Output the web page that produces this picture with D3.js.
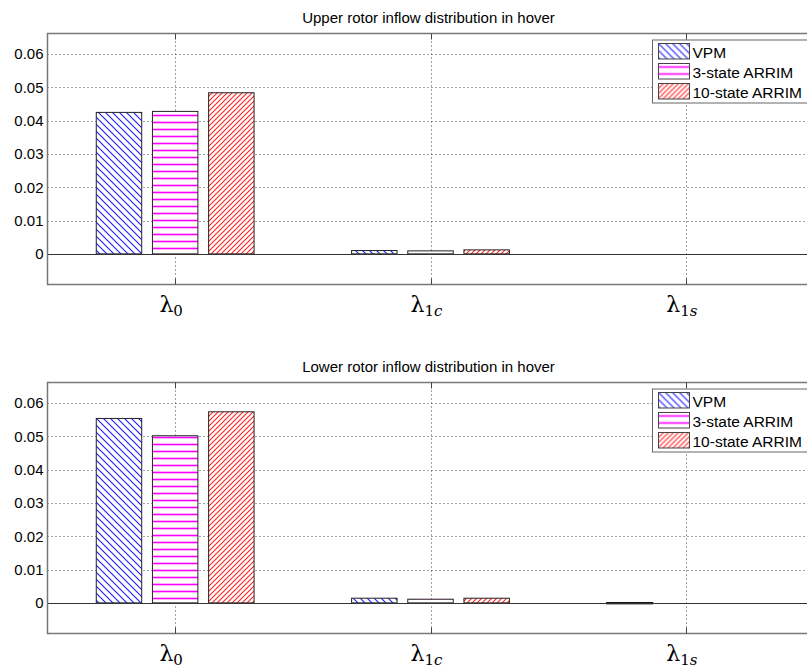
<!DOCTYPE html>
<html>
<head>
<meta charset="utf-8">
<script src="https://cdn.jsdelivr.net/npm/d3@7"></script>
<style>
  body { margin: 0; background: #fff; }
  svg { display: block; font-family: 'Liberation Sans', Arial, sans-serif; }
</style>
</head>
<body>
<svg id="chart"></svg>
<script>
// categories (x ticks): symbol, upright subscript part, italic subscript part
const categories = [
  { sym: 'λ', sub: '0', subIt: '' },
  { sym: 'λ', sub: '1', subIt: 'c' },
  { sym: 'λ', sub: '1', subIt: 's' },
];
const seriesNames = ['VPM', '3-state ARRIM', '10-state ARRIM'];
const yTicks = [0, 0.01, 0.02, 0.03, 0.04, 0.05, 0.06];

// upper rotor
const upperVPM = [0.0425, 0.0010, 0];
const upper3State = [0.0428, 0.0009, 0];
const upper10State = [0.0484, 0.0012, 0];

// lower rotor
const lowerVPM = [0.0554, 0.0014, -0.0002];
const lower3State = [0.0502, 0.0011, 0];
const lower10State = [0.0574, 0.0014, 0];

const panels = [
  { title: 'Upper rotor inflow distribution in hover', series: [upperVPM, upper3State, upper10State] },
  { title: 'Lower rotor inflow distribution in hover', series: [lowerVPM, lower3State, lower10State] },
];

const state = {
  width: 807,
  height: 670,
  left: 47.5,
  right: 813.5,
  panelTop: [33.5, 382.5],
  panelH: 251,
  barW: 0.178,
  barStep: 0.22,
};

const svg = d3.select('#chart')
  .attr('width', state.width)
  .attr('height', state.height);

// hatch patterns
const defs = svg.append('defs');
function hatch(id, size, color, kind) {
  const p = defs.append('pattern')
    .attr('id', id)
    .attr('patternUnits', 'userSpaceOnUse')
    .attr('width', size)
    .attr('height', size);
  p.append('rect').attr('width', size).attr('height', size).attr('fill', '#fff');
  let d;
  if (kind === 'back') d = `M0,0L${size},${size}M${-size},0L${size},${2 * size}M0,${-size}L${2 * size},${size}`;
  else if (kind === 'fwd') d = `M0,${size}L${size},0M${-size},${size}L${size},${-size}M0,${2 * size}L${2 * size},0`;
  else d = `M0,${size / 2}L${size},${size / 2}`;
  p.append('path').attr('d', d).attr('stroke', color).attr('stroke-width', kind === 'horiz' ? 1.6 : 1.1);
}
hatch('h-vpm', 7, '#1a1aff', 'back');
hatch('h-3s', 7, '#ff00ff', 'horiz');
hatch('h-10s', 5, '#ff2020', 'fwd');
const fills = ['url(#h-vpm)', 'url(#h-3s)', 'url(#h-10s)'];

const xScale = d3.scaleLinear().domain([0.5, 3.5]).range([state.left, state.right]);

panels.forEach((panel, pi) => {
  const top = state.panelTop[pi];
  const bottom = top + state.panelH;
  const yScale = d3.scaleLinear().domain([-0.0092, 0.0662]).range([bottom, top]);
  const g = svg.append('g').attr('class', 'panel');

  // title
  g.append('text')
    .attr('x', (state.left + state.right) / 2 - 2)
    .attr('y', top - 11)
    .attr('text-anchor', 'middle')
    .attr('font-size', 15)
    .attr('fill', '#000')
    .text(panel.title);

  // grid
  g.append('g')
    .selectAll('line')
    .data(yTicks.filter(d => d !== 0))
    .enter()
    .append('line')
    .attr('x1', state.left)
    .attr('x2', state.right)
    .attr('y1', d => Math.round(yScale(d)) + 0.5)
    .attr('y2', d => Math.round(yScale(d)) + 0.5)
    .attr('stroke', '#444')
    .attr('stroke-dasharray', '1,3');
  g.append('g')
    .selectAll('line')
    .data(d3.range(1, categories.length + 1))
    .enter()
    .append('line')
    .attr('x1', d => Math.round(xScale(d)) + 0.5)
    .attr('x2', d => Math.round(xScale(d)) + 0.5)
    .attr('y1', top)
    .attr('y2', bottom)
    .attr('stroke', '#444')
    .attr('stroke-dasharray', '1,3');

  // bars
  panel.series.forEach((vals, si) => {
    g.append('g')
      .selectAll('rect')
      .data(vals)
      .enter()
      .append('rect')
      .attr('x', (d, i) => xScale(i + 1 + (si - 1) * state.barStep - state.barW / 2))
      .attr('width', xScale(state.barW) - xScale(0))
      .attr('y', d => yScale(Math.max(d, 0)))
      .attr('height', d => Math.abs(yScale(0) - yScale(d)))
      .attr('fill', fills[si])
      .attr('stroke', d => (d < 0 ? '#000' : '#222'))
      .attr('stroke-width', d => (d < 0 ? 1.6 : 1))
      .attr('display', d => (d === 0 ? 'none' : null));
  });

  // zero line
  g.append('line')
    .attr('x1', state.left)
    .attr('x2', state.right)
    .attr('y1', Math.round(yScale(0)) + 0.5)
    .attr('y2', Math.round(yScale(0)) + 0.5)
    .attr('stroke', '#333')
    .attr('stroke-width', 1.2);

  // box
  g.append('path')
    .attr('d', `M${state.right},${top}H${state.left}V${bottom}H${state.right}`)
    .attr('fill', 'none')
    .attr('stroke', '#777')
    .attr('stroke-width', 1.5);

  // x ticks
  const xTicks = g.append('g');
  d3.range(1, categories.length + 1).forEach(t => {
    const x = Math.round(xScale(t)) + 0.5;
    xTicks.append('line').attr('x1', x).attr('x2', x).attr('y1', top).attr('y2', top + 6).attr('stroke', '#444');
    xTicks.append('line').attr('x1', x).attr('x2', x).attr('y1', bottom).attr('y2', bottom - 6).attr('stroke', '#444');
  });

  // y axis labels
  const yAxis = g.append('g')
    .attr('transform', `translate(${state.left},0)`)
    .call(d3.axisLeft(yScale).tickValues(yTicks).tickSize(0).tickPadding(4)
      .tickFormat(d => (d === 0 ? '0' : d3.format('.2f')(d))));
  yAxis.select('.domain').remove();
  yAxis.selectAll('text')
    .attr('font-size', 15)
    .attr('font-family', "'Liberation Sans', Arial, sans-serif")
    .attr('fill', '#000');

  // x labels (lambda with subscripts)
  const xl = g.append('g')
    .selectAll('text')
    .data(categories)
    .enter()
    .append('text')
    .attr('x', (d, i) => xScale(i + 1) - 4)
    .attr('y', bottom + 27)
    .attr('text-anchor', 'middle')
    .attr('font-family', "'DejaVu Serif', 'Liberation Serif', serif")
    .attr('fill', '#000');
  xl.append('tspan').attr('font-size', 22).text(d => d.sym);
  xl.append('tspan')
    .attr('font-size', 15)
    .attr('dy', 4)
    .text(d => d.sub);
  xl.append('tspan')
    .attr('font-size', 15)
    .attr('font-style', 'italic')
    .text(d => d.subIt);

  // legend
  const lg = g.append('g').attr('transform', `translate(652.5,${top + 6.5})`);
  lg.append('rect')
    .attr('width', 170)
    .attr('height', 63)
    .attr('fill', '#fff')
    .attr('stroke', '#666');
  seriesNames.forEach((name, si) => {
    const row = lg.append('g').attr('transform', `translate(6,${3.5 + si * 20})`);
    row.append('rect')
      .attr('width', 31)
      .attr('height', 15.5)
      .attr('fill', fills[si])
      .attr('stroke', '#444');
    row.append('text')
      .attr('x', 34)
      .attr('y', 14)
      .attr('font-size', 15.5)
      .attr('fill', '#000')
      .text(name);
  });
});
</script>
</body>
</html>
